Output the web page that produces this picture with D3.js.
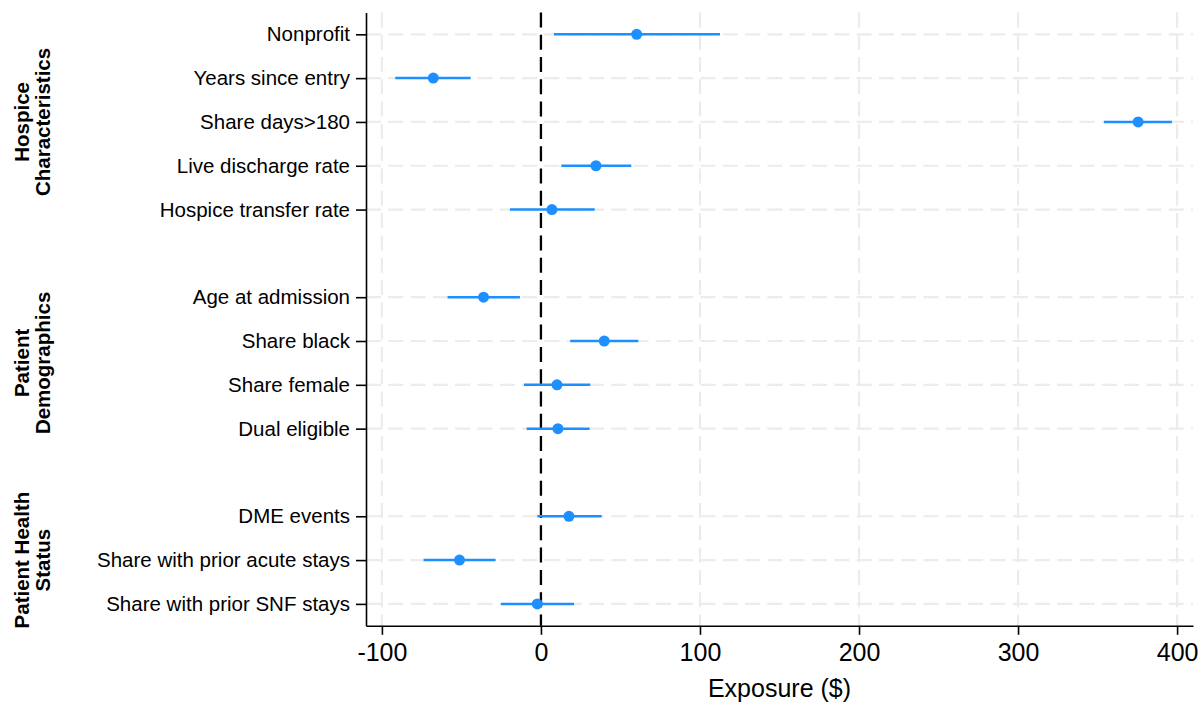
<!DOCTYPE html>
<html>
<head>
<meta charset="utf-8">
<script src="https://cdn.jsdelivr.net/npm/d3@7"></script>
<style>
  body { margin: 0; background: #fff; }
  svg { display: block; font-family: "Liberation Sans", Arial, sans-serif; }
</style>
</head>
<body>
<svg id="chart" width="1200" height="702"></svg>
<script>
// data
var groups = [
  ["Hospice", "Characteristics"],
  ["Patient", "Demographics"],
  ["Patient Health", "Status"]
];
var labels = [
  ["Nonprofit", "Years since entry", "Share days>180", "Live discharge rate", "Hospice transfer rate"],
  ["Age at admission", "Share black", "Share female", "Dual eligible"],
  ["DME events", "Share with prior acute stays", "Share with prior SNF stays"]
];
var estimates = [
  [60.2, -67.7, 375.5, 34.6, 6.9],
  [-36.1, 39.8, 10.1, 10.7],
  [17.6, -51.2, -2.3]
];
var lower = [
  [8.2, -91.6, 354, 12.8, -19.5],
  [-58.7, 18.4, -10.7, -9],
  [-2.3, -73.8, -25.2]
];
var upper = [
  [112.6, -44.2, 396.7, 56.8, 33.8],
  [-13.2, 61.2, 31, 30.6],
  [38.2, -28.5, 20.8]
];
var xTicks = [-100, 0, 100, 200, 300, 400];
var xTitle = "Exposure ($)";

var svg = d3.select('#chart');
// plot box (window.top is reserved, so use p.*)
var p = {left: 366, right: 1193, top: 12.4, bottom: 625.8};
var blue = '#1e8fff';

// slot keys: rows plus a blank between groups
var slots = [];
var rows = [];
groups.forEach(function (g, gi) {
  if (gi > 0) slots.push('gap' + gi);
  labels[gi].forEach(function (l, i) {
    slots.push(l);
    rows.push({group: gi, label: l, est: estimates[gi][i], lo: lower[gi][i], hi: upper[gi][i]});
  });
});

var x = d3.scaleLinear().domain([-110, 410]).range([p.left, p.right]);
var y = d3.scalePoint().domain(slots).range([p.top, p.bottom]).padding(0.5);

// grid
svg.append('g').selectAll('line')
  .data(xTicks).enter().append('line')
  .attr('x1', function (d) { return x(d); })
  .attr('x2', function (d) { return x(d); })
  .attr('y1', p.top).attr('y2', p.bottom)
  .attr('stroke', '#ececec').attr('stroke-width', 2.2)
  .attr('stroke-dasharray', '15,7.3');

svg.append('g').selectAll('line')
  .data(rows).enter().append('line')
  .attr('x1', p.left).attr('x2', p.right)
  .attr('y1', function (d) { return y(d.label); })
  .attr('y2', function (d) { return y(d.label); })
  .attr('stroke', '#ececec').attr('stroke-width', 2.2)
  .attr('stroke-dasharray', '15,7.3');

// zero line
svg.append('line')
  .attr('x1', x(0)).attr('x2', x(0))
  .attr('y1', p.top).attr('y2', p.bottom)
  .attr('stroke', '#000').attr('stroke-width', 2.3)
  .attr('stroke-dasharray', '15,7.3');

// confidence intervals
svg.append('g').selectAll('line')
  .data(rows).enter().append('line')
  .attr('x1', function (d) { return x(d.lo); })
  .attr('x2', function (d) { return x(d.hi); })
  .attr('y1', function (d) { return y(d.label); })
  .attr('y2', function (d) { return y(d.label); })
  .attr('stroke', blue).attr('stroke-width', 2.5);

svg.append('g').selectAll('circle')
  .data(rows).enter().append('circle')
  .attr('cx', function (d) { return x(d.est); })
  .attr('cy', function (d) { return y(d.label); })
  .attr('r', 5.5)
  .attr('fill', blue);

// axes
var xAxis = svg.append('g')
  .attr('transform', 'translate(0,' + p.bottom + ')')
  .call(d3.axisBottom(x).tickValues(xTicks).tickSize(9).tickPadding(8)
    .tickFormat(function (d) { return d; }).tickSizeOuter(0));
xAxis.select('.domain').attr('stroke-width', 1.6);
xAxis.selectAll('.tick line').attr('stroke-width', 1.6);
xAxis.selectAll('text').attr('font-size', 25).attr('fill', '#000')
  .attr('font-family', '"Liberation Sans", Arial, sans-serif');

var yAxis = svg.append('g')
  .attr('transform', 'translate(' + p.left + ',0)')
  .call(d3.axisLeft(y).tickValues(rows.map(function (d) { return d.label; }))
    .tickSize(10).tickPadding(6).tickSizeOuter(0));
yAxis.select('.domain').attr('stroke-width', 1.6);
yAxis.selectAll('.tick line').attr('stroke-width', 1.6);
yAxis.selectAll('text').attr('font-size', 20.5).attr('fill', '#000')
  .attr('font-family', '"Liberation Sans", Arial, sans-serif');

svg.append('text')
  .attr('x', (p.left + p.right) / 2).attr('y', 697)
  .attr('text-anchor', 'middle')
  .attr('font-size', 25)
  .text(xTitle);

// group titles
groups.forEach(function (g, gi) {
  var ys = labels[gi].map(function (l) { return y(l); });
  var cy = (d3.min(ys) + d3.max(ys)) / 2;
  var t = svg.append('text')
    .attr('transform', 'translate(' + 28.5 + ',' + cy + ') rotate(-90)')
    .attr('text-anchor', 'middle')
    .attr('font-size', 20.5)
    .attr('font-weight', 'bold');
  g.forEach(function (line, li) {
    t.append('tspan').attr('x', 0).attr('dy', li === 0 ? 0 : 21).text(line);
  });
});
</script>
</body>
</html>
